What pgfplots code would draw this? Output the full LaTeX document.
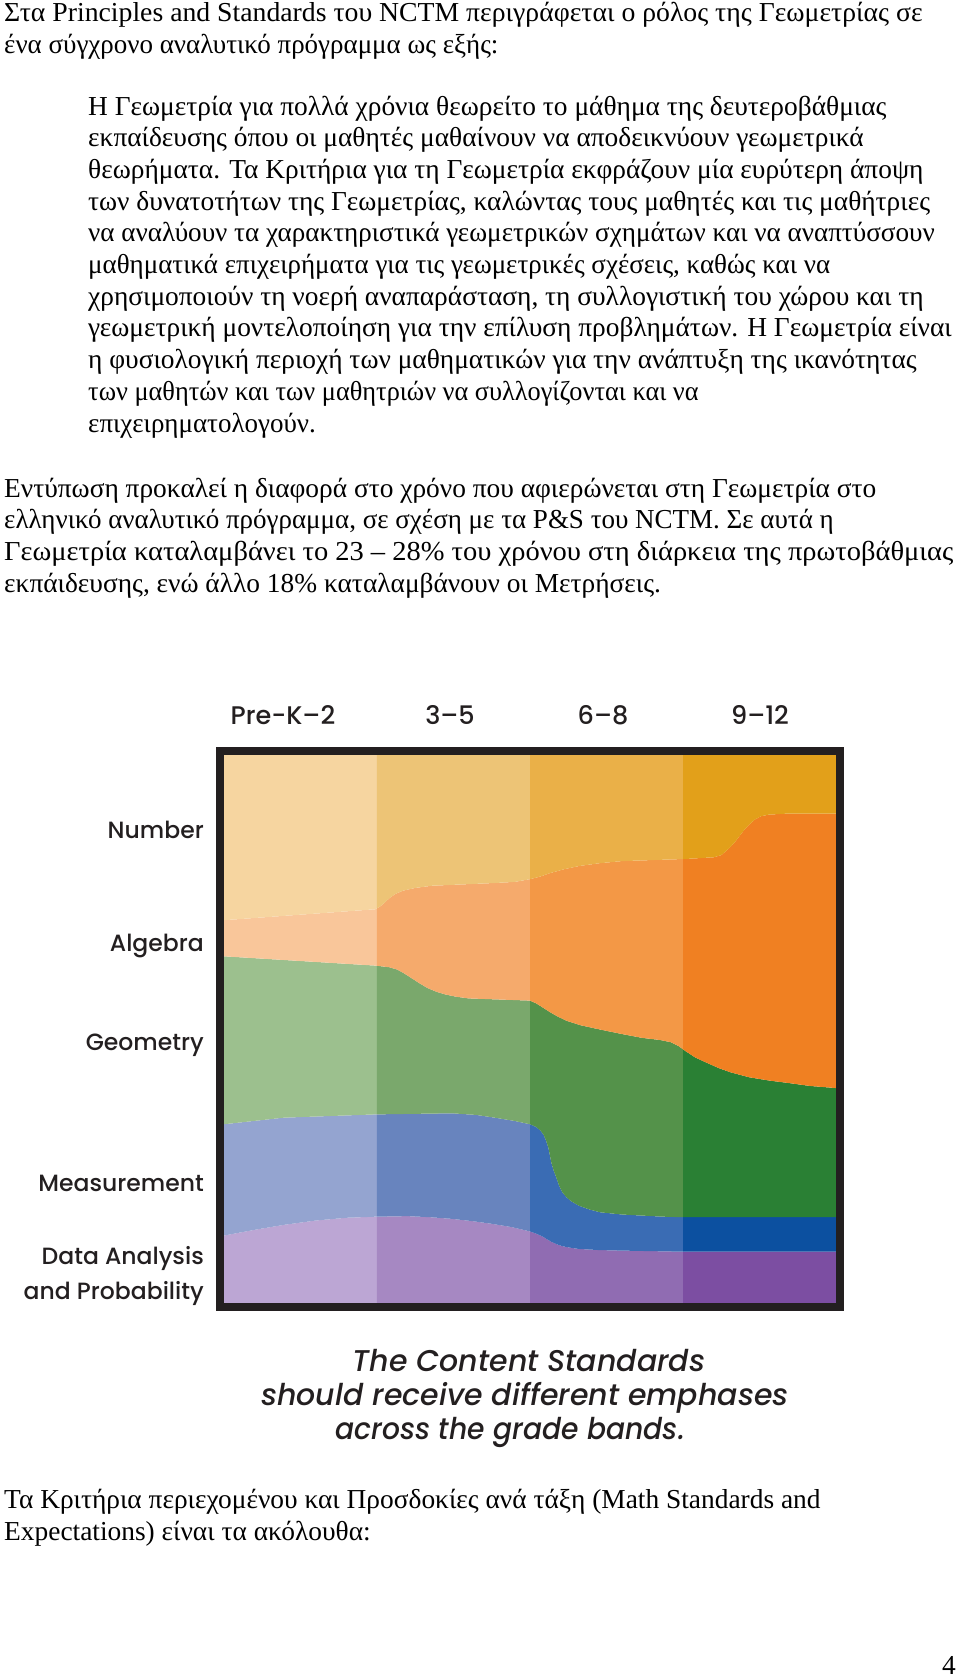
\documentclass[border=0pt]{standalone}
\usepackage{fontspec}
\setmainfont{Liberation Serif}
\newfontfamily\geo{Poppins}[UprightFont={* Medium}, ItalicFont={* Medium Italic}]
\usepackage{pgfplots}
\pgfplotsset{compat=1.18}
\usepgfplotslibrary{fillbetween}

\definecolor{n1}{HTML}{F6D5A0}\definecolor{n2}{HTML}{EDC476}\definecolor{n3}{HTML}{EAB048}\definecolor{n4}{HTML}{E2A01A}
\definecolor{a1}{HTML}{F9C69A}\definecolor{a2}{HTML}{F5AA6C}\definecolor{a3}{HTML}{F39846}\definecolor{a4}{HTML}{F08022}
\definecolor{g1}{HTML}{9CC08E}\definecolor{g2}{HTML}{7AA86C}\definecolor{g3}{HTML}{54924A}\definecolor{g4}{HTML}{2A8034}
\definecolor{m1}{HTML}{94A4D0}\definecolor{m2}{HTML}{6884BE}\definecolor{m3}{HTML}{3A6CB4}\definecolor{m4}{HTML}{0C50A0}
\definecolor{d1}{HTML}{BCA6D4}\definecolor{d2}{HTML}{A688C2}\definecolor{d3}{HTML}{906CB2}\definecolor{d4}{HTML}{7C4EA2}
\definecolor{ink}{HTML}{231F20}

\pgfplotstableread{
x y
-0.05 12.0
0 12.15
0.2 13.2
0.39 14.1
0.6 14.9
0.8 15.4
0.99 15.6
1.2 15.7
1.35 15.5
1.49 15.2
1.62 14.8
1.75 14.3
1.88 13.7
2.0 12.9
2.04 12.5
2.08 12.0
2.11 11.5
2.14 11.0
2.18 10.5
2.22 10.15
2.27 9.9
2.32 9.7
2.45 9.5
2.6 9.4
3.0 9.2
4.05 9.2
}\bDat
\pgfplotstableread{
x y
-0.05 32.4
0 32.5
0.39 33.7
0.99 34.3
1.49 34.5
1.65 34.2
1.77 33.7
1.9 33.1
2.0 32.5
2.04 32.0
2.07 31.3
2.09 30.5
2.105 29.5
2.12 28.2
2.13 26.8
2.14 25.4
2.155 24.0
2.17 22.9
2.19 21.3
2.21 20.1
2.24 19.1
2.27 18.4
2.32 17.6
2.39 16.9
2.46 16.4
2.6 16.0
2.87 15.6
3.0 15.5
4.05 15.5
}\bMea
\pgfplotstableread{
x y
-0.05 63.3
0 63.2
0.99 61.5
1.08 61.2
1.13 60.8
1.17 60.2
1.21 59.5
1.27 58.4
1.33 57.4
1.39 56.7
1.45 56.2
1.52 55.8
1.60 55.5
2.0 55.1
2.04 54.6
2.08 53.9
2.13 53.0
2.18 52.2
2.24 51.4
2.33 50.6
2.46 49.8
2.6 49.0
2.73 48.3
2.85 47.9
2.92 47.5
2.97 46.8
3.02 45.8
3.08 44.7
3.15 43.8
3.23 42.8
3.31 42.0
3.43 41.1
3.56 40.5
3.7 40.0
3.83 39.5
4.05 39.0
}\bGeo
\pgfplotstableread{
x y
-0.05 69.7
0 69.8
0.99 71.8
1.02 72.3
1.05 73.0
1.08 73.8
1.12 74.6
1.17 75.2
1.25 75.7
1.36 76.1
1.77 76.6
1.9 76.8
2.0 77.3
2.07 77.8
2.13 78.4
2.22 79.1
2.32 79.7
2.45 80.2
2.6 80.6
3.02 81.0
3.2 81.3
3.25 81.7
3.28 82.4
3.31 83.2
3.34 84.1
3.37 85.2
3.40 86.3
3.43 87.2
3.47 88.2
3.51 88.8
3.56 89.1
3.69 89.3
4.05 89.3
}\bAlg

\begin{document}
\begin{tikzpicture}
\path (0,0) rectangle (960pt,-1678pt);
\begin{scope}[x=1pt,y=-1pt, T/.style={anchor=base west, inner sep=0pt, font=\fontsize{27.4}{31}\selectfont}]
\node[T] at (4,21.7) {\scalebox{1.012}[1]{Στα Principles and Standards του NCTM περιγράφεται ο ρόλος της Γεωμετρίας σε}};
\node[T] at (4,53.2) {\scalebox{0.985}[1]{ένα σύγχρονο αναλυτικό πρόγραμμα ως εξής:}};
\node[T] at (88,115.0) {Η Γεωμετρία για πολλά χρόνια θεωρείτο το μάθημα της δευτεροβάθμιας};
\node[T] at (88,146.7) {εκπαίδευσης όπου οι μαθητές μαθαίνουν να αποδεικνύουν γεωμετρικά};
\node[T] at (88,178.4) {θεωρήματα. Τα Κριτήρια για τη Γεωμετρία εκφράζουν μία ευρύτερη άποψη};
\node[T] at (88,210.1) {των δυνατοτήτων της Γεωμετρίας, καλώντας τους μαθητές και τις μαθήτριες};
\node[T] at (88,241.8) {\scalebox{0.99}[1]{να αναλύουν τα χαρακτηριστικά γεωμετρικών σχημάτων και να αναπτύσσουν}};
\node[T] at (88,273.5) {\scalebox{0.985}[1]{μαθηματικά επιχειρήματα για τις γεωμετρικές σχέσεις, καθώς και να}};
\node[T] at (88,305.2) {χρησιμοποιούν τη νοερή αναπαράσταση, τη συλλογιστική του χώρου και τη};
\node[T] at (88,336.9) {γεωμετρική μοντελοποίηση για την επίλυση προβλημάτων. Η Γεωμετρία είναι};
\node[T] at (88,368.6) {η φυσιολογική περιοχή των μαθηματικών για την ανάπτυξη της ικανότητας};
\node[T] at (88,400.3) {\scalebox{0.96}[1]{των μαθητών και των μαθητριών να συλλογίζονται και να}};
\node[T] at (88,432.0) {\scalebox{0.985}[1]{επιχειρηματολογούν.}};
\node[T] at (4,497.0) {Εντύπωση προκαλεί η διαφορά στο χρόνο που αφιερώνεται στη Γεωμετρία στο};
\node[T] at (4,528.7) {\scalebox{0.985}[1]{ελληνικό αναλυτικό πρόγραμμα, σε σχέση με τα P\&S του NCTM. Σε αυτά η}};
\node[T] at (4,560.4) {\scalebox{1.04}[1]{Γεωμετρία καταλαμβάνει το 23 – 28\% του χρόνου στη διάρκεια της πρωτοβάθμιας}};
\node[T] at (4,592.1) {εκπάιδευσης, ενώ άλλο 18\% καταλαμβάνουν οι Μετρήσεις.};
\node[T] at (4,1508) {Τα Κριτήρια περιεχομένου και Προσδοκίες ανά τάξη (Math Standards and};
\node[T] at (4,1540) {Expectations) είναι τα ακόλουθα:};
\node[T, anchor=base east] at (956,1674) {4};
% column headers
\begin{scope}[every node/.style={anchor=base, inner sep=0pt, text=ink, font=\geo\fontsize{25.5}{30}\selectfont}]
\node at (283,724) {Pre-K–2};
\node at (450,724) {3–5};
\node at (603,724) {6–8};
\node at (760,724) {9–12};
\end{scope}
% row labels
\begin{scope}[every node/.style={anchor=base east, inner sep=0pt, text=ink, font=\geo\fontsize{23.5}{28}\selectfont}]
\node at (204,838) {Number};
\node at (204,951) {Algebra};
\node at (204,1050) {Geometry};
\node at (204,1191) {Measurement};
\node at (204,1264) {Data Analysis};
\node at (204,1299) {and Probability};
\end{scope}
% caption
\begin{scope}[every node/.style={anchor=base, inner sep=0pt, text=ink, font=\geo\itshape\fontsize{30}{34}\selectfont}]
\node at (529,1371) {The Content Standards};
\node at (525,1405) {should receive different emphases};
\node at (510,1439) {\scalebox{0.94}[1]{across the grade bands.}};
\end{scope}
\end{scope}

\begin{axis}[name=ax, at={(220pt,-1306.5pt)}, anchor=south west,
  width=620pt, height=556pt, scale only axis,
  xmin=-0.026, xmax=4.026, ymin=-0.82, ymax=100.82,
  axis line style={draw=none}, ticks=none]
\addplot[draw=none, name path=B0] coordinates {(-0.05,-1) (4.05,-1)};
\addplot[draw=none, name path=B1] table[x=x,y=y] {\bDat};
\addplot[draw=none, name path=B2] table[x=x,y=y] {\bMea};
\addplot[draw=none, name path=B3] table[x=x,y=y] {\bGeo};
\addplot[draw=none, name path=B4] table[x=x,y=y] {\bAlg};
\addplot[draw=none, name path=B5] coordinates {(-0.05,101) (4.05,101)};
% Data Analysis
\addplot[fill=d1, draw=none] fill between[of=B0 and B1, soft clip={domain=-0.05:1}];
\addplot[fill=d2, draw=none] fill between[of=B0 and B1, soft clip={domain=1:2}];
\addplot[fill=d3, draw=none] fill between[of=B0 and B1, soft clip={domain=2:3}];
\addplot[fill=d4, draw=none] fill between[of=B0 and B1, soft clip={domain=3:4.05}];
% Measurement
\addplot[fill=m1, draw=none] fill between[of=B1 and B2, soft clip={domain=-0.05:1}];
\addplot[fill=m2, draw=none] fill between[of=B1 and B2, soft clip={domain=1:2}];
\addplot[fill=m3, draw=none] fill between[of=B1 and B2, soft clip={domain=2:3}];
\addplot[fill=m4, draw=none] fill between[of=B1 and B2, soft clip={domain=3:4.05}];
% Geometry
\addplot[fill=g1, draw=none] fill between[of=B2 and B3, soft clip={domain=-0.05:1}];
\addplot[fill=g2, draw=none] fill between[of=B2 and B3, soft clip={domain=1:2}];
\addplot[fill=g3, draw=none] fill between[of=B2 and B3, soft clip={domain=2:3}];
\addplot[fill=g4, draw=none] fill between[of=B2 and B3, soft clip={domain=3:4.05}];
% Algebra
\addplot[fill=a1, draw=none] fill between[of=B3 and B4, soft clip={domain=-0.05:1}];
\addplot[fill=a2, draw=none] fill between[of=B3 and B4, soft clip={domain=1:2}];
\addplot[fill=a3, draw=none] fill between[of=B3 and B4, soft clip={domain=2:3}];
\addplot[fill=a4, draw=none] fill between[of=B3 and B4, soft clip={domain=3:4.05}];
% Number
\addplot[fill=n1, draw=none] fill between[of=B4 and B5, soft clip={domain=-0.05:1}];
\addplot[fill=n2, draw=none] fill between[of=B4 and B5, soft clip={domain=1:2}];
\addplot[fill=n3, draw=none] fill between[of=B4 and B5, soft clip={domain=2:3}];
\addplot[fill=n4, draw=none] fill between[of=B4 and B5, soft clip={domain=3:4.05}];
\end{axis}
\draw[line width=8pt, ink] (ax.south west) rectangle (ax.north east);
\end{tikzpicture}
\end{document}
